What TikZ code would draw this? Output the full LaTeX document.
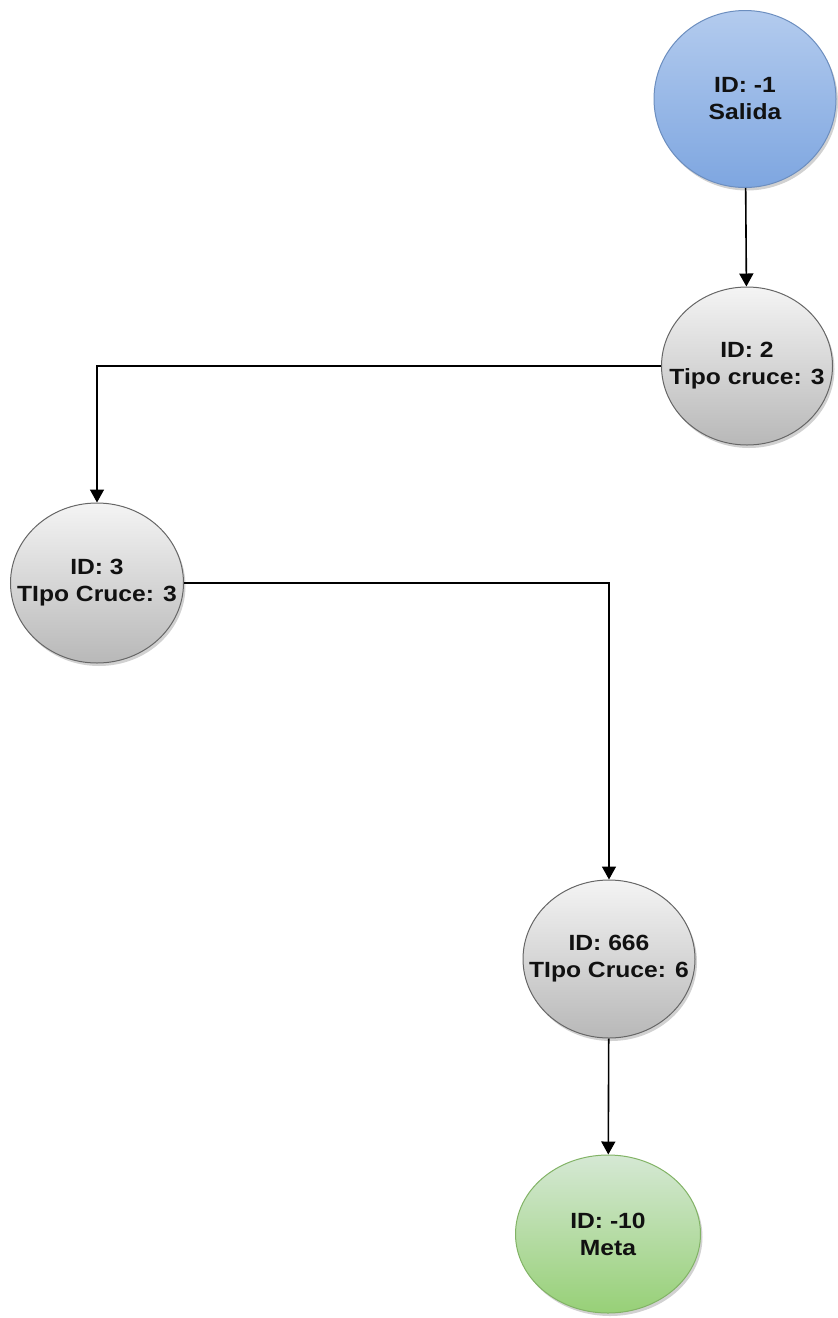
\documentclass[tikz,border=0pt]{standalone}
\usepackage{fontspec}
\setmainfont{Liberation Sans}
\newfontfamily\nodefont{Liberation Sans}[FakeStretch=1.12]
\usetikzlibrary{shapes.geometric,arrows.meta,shadows}

\definecolor{blueTop}{HTML}{B3CBEE}
\definecolor{blueBot}{HTML}{7EA6E0}
\definecolor{blueLine}{HTML}{6C8EBF}
\definecolor{greyTop}{HTML}{F4F4F4}
\definecolor{greyBot}{HTML}{B8B8B8}
\definecolor{greyLine}{HTML}{666666}
\definecolor{greenTop}{HTML}{D5E8D4}
\definecolor{greenBot}{HTML}{97D077}
\definecolor{greenLine}{HTML}{82B366}
\definecolor{ink}{HTML}{111111}

% two centred lines that do not widen the ellipse around them
\newcommand\twolines[2]{\makebox[0pt]{#1}\\\makebox[0pt]{#2}}

\tikzset{
  state/.style={ellipse, inner sep=0pt, line width=1pt, align=center,
    font=\nodefont\bfseries\fontsize{22}{27}\selectfont, text=ink,
    drop shadow={shadow xshift=2pt, shadow yshift=-3pt, opacity=0.18, fill=black}},
  start/.style={state, draw=blueLine, top color=blueTop, bottom color=blueBot},
  cross/.style={state, draw=greyLine, top color=greyTop, bottom color=greyBot},
  goal/.style={state, draw=greenLine, top color=greenTop, bottom color=greenBot},
  link/.style={draw=black, line width=1.6pt, -{Triangle[length=13pt,width=14pt]}}
}

\begin{document}
\begin{tikzpicture}[x=1pt, y=-1pt]
  \useasboundingbox (0,0) rectangle (838,1318);

  \node[start, minimum width=182pt, minimum height=177pt] (s)  at (745,99)   {\twolines{ID: -1}{Salida}};
  \node[cross, minimum width=171pt, minimum height=158pt] (c2) at (747,366)  {\twolines{ID: 2}{Tipo cruce: 3}};
  \node[cross, minimum width=173pt, minimum height=160pt] (c3) at (97,583)   {\twolines{ID: 3}{TIpo Cruce: 3}};
  \node[cross, minimum width=172pt, minimum height=158pt] (c6) at (609,959)  {\twolines{ID: 666}{TIpo Cruce: 6}};
  \node[goal,  minimum width=185pt, minimum height=158pt] (m)  at (608,1234) {\twolines{ID: -10}{Meta}};

  \draw[link] (s) -- (c2);
  \draw[link] (c2.west) -| (c3.north);
  \draw[link] (c3.east) -| (c6.north);
  \draw[link] (c6) -- (m);
\end{tikzpicture}
\end{document}
